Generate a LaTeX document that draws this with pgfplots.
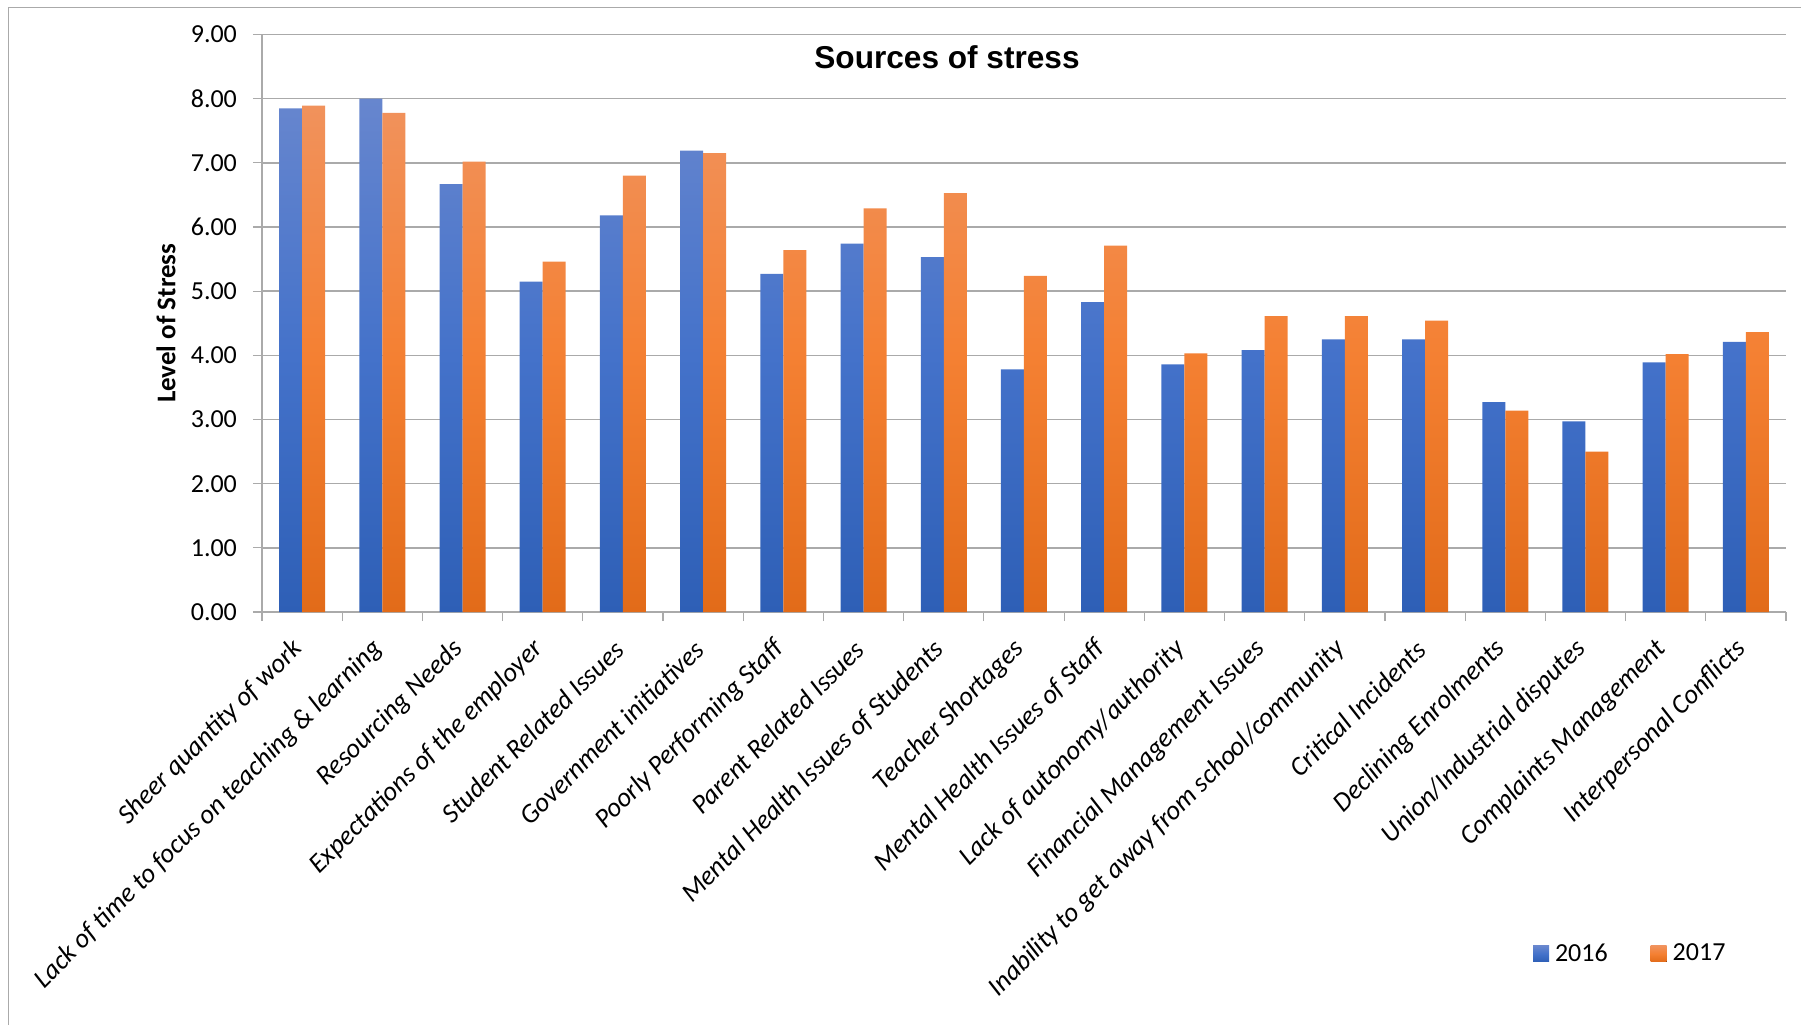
\documentclass[border=0pt]{standalone}
\usepackage{fontspec}
\setmainfont{Carlito}
\newfontfamily\titlefont{Liberation Sans}
\usepackage{pgfplots}
\usepackage{pgfplotstable}
\pgfplotsset{compat=1.18}
\usetikzlibrary{shadings}
\definecolor{btop}{RGB}{103,134,206}
\definecolor{bmid}{RGB}{68,114,202}
\definecolor{bbot}{RGB}{46,95,182}
\definecolor{otop}{RGB}{241,146,92}
\definecolor{omid}{RGB}{244,128,50}
\definecolor{obot}{RGB}{226,107,25}
\definecolor{gridgray}{RGB}{170,170,170}
\pgfplotstableread{
x y16 y17
0 7.85 7.89
1 8.00 7.78
2 6.67 7.02
3 5.15 5.46
4 6.18 6.80
5 7.19 7.15
6 5.27 5.64
7 5.74 6.29
8 5.53 6.53
9 3.78 5.24
10 4.83 5.71
11 3.86 4.03
12 4.08 4.61
13 4.25 4.61
14 4.25 4.54
15 3.27 3.14
16 2.97 2.50
17 3.89 4.02
18 4.21 4.36
}\datatable
\begin{document}
\begin{tikzpicture}
\path[use as bounding box] (-131pt,-206.5pt) rectangle (769.5pt,306pt);
\draw[gridgray, line width=0.6pt] (-126.7pt,-206.5pt) -- (-126.7pt,302.4pt) -- (769.5pt,302.4pt);
\begin{axis}[
  at={(0pt,0pt)}, anchor=south west,
  scale only axis,
  width=762pt, height=288.75pt,
  ybar=0pt, bar width=11.5pt,
  xmin=-0.5, xmax=18.5, ymin=0, ymax=9,
  enlargelimits=false,
  axis x line*=bottom, axis y line*=left,
  axis line style={gridgray, line width=0.6pt},
  ymajorgrids, grid style={gridgray, line width=0.7pt},
  ytick={0,1,...,9},
  xtick={0,...,18},
  minor xtick={-0.5,0.5,...,18.5},
  tick align=outside,
  major tick length=4.5pt, minor tick length=4.5pt,
  major x tick style={draw=none},
  minor tick style={gridgray, line width=0.6pt},
  major tick style={gridgray, line width=0.6pt},
  /pgf/number format/assume math mode=true,
  yticklabel style={font=\fontsize{13}{15}\selectfont, xshift=-4.5pt, /pgf/number format/.cd, fixed, fixed zerofill, precision=2},
  xticklabels={Sheer quantity of work, Lack of time to focus on teaching \& learning, Resourcing Needs, Expectations of the employer, Student Related Issues, Government initiatives, Poorly Performing Staff, Parent Related Issues, Mental Health Issues of Students, Teacher Shortages, Mental Health Issues of Staff, Lack of autonomy/authority, Financial Management Issues, Inability to get away from school/community, Critical Incidents, Declining Enrolments, Union/Industrial disputes, Complaints Management, Interpersonal Conflicts},
  xticklabel style={font=\fontsize{13.5}{15}\selectfont\itshape, xshift=-1.8pt, yshift=-11.9pt, rotate=45, anchor=east, inner sep=0pt},
  ylabel={Level of Stress},
  every axis y label/.style={at={(axis description cs:-0.063,0.5)}, rotate=90, anchor=center, font=\fontsize{13.5}{15}\selectfont\bfseries},
  title={Sources of stress},
  every axis title/.style={at={(axis description cs:0.4495,0.9413)}, anchor=base, font=\titlefont\fontsize{15.8}{18}\selectfont\bfseries},
  legend columns=2,
  legend image code/.code={\fill[#1] (0pt,-4pt) rectangle (8pt,4pt);},
  legend style={at={(axis description cs:0.834,-0.592)}, anchor=west, draw=none, fill=none, inner sep=0pt, outer sep=0pt,
    font=\fontsize{13}{15}\selectfont,
    nodes={inner sep=0pt, anchor=west},
    /tikz/every odd column/.append style={column sep=3pt},
    /tikz/every even column/.append style={column sep=21.5pt}},
]
\addplot[draw=none, top color=btop, bottom color=bbot, middle color=bmid] table[x=x, y=y16] {\datatable};
\addplot[draw=none, top color=otop, bottom color=obot, middle color=omid] table[x=x, y=y17] {\datatable};
\legend{2016, 2017}
\end{axis}
\end{tikzpicture}
\end{document}
